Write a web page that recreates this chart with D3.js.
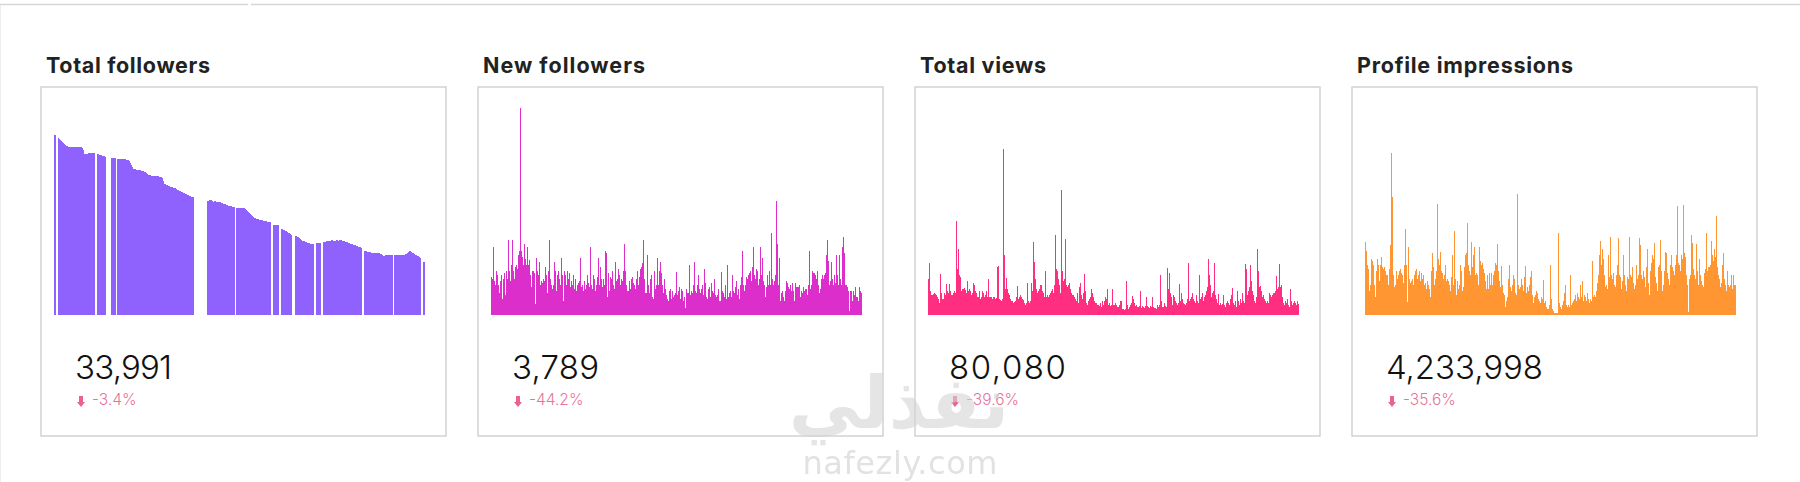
<!DOCTYPE html>
<html><head><meta charset="utf-8">
<script src="https://cdn.jsdelivr.net/npm/d3@7"></script>
<style>html,body{margin:0;padding:0;background:#fff;overflow:hidden}svg{display:block}</style>
</head><body><div id="c"></div>
<script>
const titles=["Total followers","New followers","Total views","Profile impressions"];
const totals=["33,991","3,789","80,080","4,233,998"];
const deltas=["-3.4%","-44.2%","-39.6%","-35.6%"];
const colors=["#9062fd","#dc2ecb","#ff2e80","#ff9633"];
const watermarkAr="نفذلي";
const watermarkEn="nafezly.com";
const totalFollowers=[
180,180,0,0,177,176,175,174,173,172,171,170,169,169,168,168,168,168,168,168,
168,168,168,168,168,168,168,168,167,165,161,161,161,161,162,162,162,162,162,162,
162,0,0,161,161,160,160,160,159,159,159,158,0,0,0,0,0,157,157,157,
157,157,0,156,156,156,156,156,156,156,156,156,155,155,155,154,152,150,148,146,
146,146,145,145,145,145,145,144,144,144,143,143,142,141,140,140,140,139,139,139,
139,139,139,139,139,138,138,138,137,134,131,131,130,130,129,129,128,128,128,127,
127,127,126,125,125,124,124,123,123,122,122,121,121,120,120,119,119,118,118,118,
0,0,0,0,0,0,0,0,0,0,0,0,0,114,114,115,115,115,114,113,
114,114,113,113,113,113,113,112,112,111,111,111,110,110,109,109,109,109,108,108,
108,0,107,107,107,107,107,107,107,107,107,106,105,104,103,102,101,100,99,98,
97,97,96,96,96,95,95,95,95,94,94,94,94,93,93,93,93,0,0,90,
90,90,90,90,90,0,0,86,86,85,85,84,84,83,82,82,81,80,0,0,
0,79,79,78,78,77,76,75,74,74,74,73,73,72,72,72,71,71,71,71,
0,0,72,72,72,72,72,0,0,73,73,73,74,74,74,74,74,75,75,74,
74,74,75,75,74,75,75,75,74,74,74,73,73,73,72,72,71,71,71,70,
70,70,69,69,68,68,68,67,0,0,64,64,64,63,63,63,63,62,62,62,
62,62,62,62,62,62,61,61,60,59,59,60,60,60,60,60,60,60,60,0,
60,60,60,60,60,60,60,60,60,60,60,61,61,62,63,64,64,63,62,62,
61,60,60,59,59,58,57,0,0,53,53];
const newFollowers=[
38,36,68,34,30,44,40,30,22,34,40,16,36,42,20,44,36,75,44,38,
34,50,75,44,36,48,50,46,60,64,207,64,58,50,71,56,50,68,50,55,
40,28,44,44,42,11,57,44,40,53,30,34,32,36,34,48,40,36,22,44,
75,36,30,26,30,53,44,24,40,44,36,30,57,40,14,44,40,30,44,36,
42,28,34,30,40,26,36,24,30,32,34,57,28,30,24,20,34,26,30,40,
32,28,68,30,26,40,36,24,30,38,57,30,48,36,28,36,30,64,62,18,
42,24,38,36,44,30,26,53,34,36,46,40,30,42,36,34,44,71,44,30,
24,24,34,26,36,38,32,30,26,36,44,30,38,46,48,52,75,36,22,22,
60,30,22,36,40,18,16,44,26,30,57,38,30,44,53,42,30,22,36,26,
20,16,14,24,26,16,24,18,20,22,43,20,24,28,16,26,24,14,18,7,
26,22,22,50,20,24,22,30,53,28,24,22,30,40,26,22,26,30,20,46,
32,18,16,26,28,18,32,24,22,36,20,18,20,26,14,14,43,24,22,18,
30,16,50,18,22,24,18,75,40,24,22,28,34,20,26,16,30,38,64,30,
24,30,38,36,40,42,44,34,48,68,40,36,46,44,30,36,68,40,57,34,
30,18,28,40,30,32,44,30,82,36,30,34,40,114,71,30,57,14,22,24,
18,14,24,34,32,28,26,30,24,32,24,14,32,28,28,28,30,18,24,22,
28,24,26,75,26,20,30,64,26,30,44,42,42,40,36,44,30,22,26,36,
40,36,40,42,60,75,54,30,34,53,36,30,40,32,60,40,30,60,36,30,
68,70,78,62,30,30,28,24,4,24,24,14,24,20,28,18,18,14,28,24,22];
const totalViews=[
36,52,24,20,20,21,22,21,20,18,16,12,41,22,16,16,22,20,31,24,
22,31,24,20,20,22,24,22,94,46,66,40,38,24,26,26,27,25,22,34,
24,26,24,20,22,32,30,24,22,18,18,24,16,18,24,22,18,20,24,18,
36,18,18,18,16,18,18,16,17,48,49,16,15,14,16,166,60,26,37,26,
22,20,16,14,14,12,13,14,18,29,16,18,20,18,16,15,12,10,12,32,
14,12,14,32,24,73,53,36,26,22,24,26,30,30,24,22,18,44,18,20,
18,20,22,24,26,22,30,80,46,44,36,30,22,125,44,34,36,76,30,28,
30,32,26,22,20,20,18,16,14,22,12,28,32,20,16,22,41,24,12,10,
14,16,18,26,22,18,14,12,12,10,10,9,12,8,14,10,14,18,16,26,
10,12,9,10,26,10,10,12,10,8,8,10,14,14,6,6,5,6,34,10,
6,8,10,12,19,16,12,9,10,8,8,9,24,7,9,8,7,9,18,9,
8,7,9,8,18,8,7,7,6,10,8,10,40,14,8,8,12,9,8,47,
26,42,22,18,10,20,18,14,12,10,12,31,14,22,16,12,11,10,12,16,
52,14,16,18,22,16,14,12,20,14,12,40,16,18,22,14,18,20,24,28,
56,40,30,18,22,24,52,20,16,12,21,10,12,10,11,20,10,8,12,14,
12,10,16,20,27,12,10,14,8,24,14,10,16,12,22,14,12,51,46,20,
24,28,50,34,24,20,14,12,18,66,44,28,29,24,18,20,16,14,12,14,
12,22,20,18,20,22,22,24,39,26,28,51,28,30,18,12,10,14,12,16,
10,8,26,14,10,12,14,12,10,14,11];
const profileImpressions=[
73,64,50,46,24,30,56,54,50,30,18,44,56,50,34,50,58,48,46,73,
48,44,40,40,30,46,70,162,118,40,28,30,44,36,40,44,46,42,40,32,
50,86,50,13,68,36,32,34,36,30,40,44,46,36,40,44,34,28,42,36,
40,30,32,26,34,30,26,18,44,62,48,30,36,44,111,56,50,63,44,42,
36,40,50,34,36,34,30,24,38,60,30,84,36,20,34,24,26,30,50,44,
24,28,48,60,62,92,50,44,40,73,48,60,68,40,42,40,30,68,54,50,
52,46,42,34,26,40,26,42,30,42,30,40,44,114,52,50,71,44,34,28,
49,30,22,20,8,14,18,36,50,28,24,30,40,36,22,20,121,30,26,28,
36,30,24,38,49,22,28,24,30,38,44,24,20,12,18,20,24,22,16,14,
12,18,16,35,12,14,8,6,6,10,50,16,6,4,2,2,2,2,82,12,
8,6,10,14,22,30,10,8,10,12,8,40,10,12,14,16,20,14,22,18,
16,30,18,34,14,20,18,14,22,16,12,16,14,54,18,20,18,24,32,40,
60,74,50,66,56,40,28,36,30,26,60,38,78,40,36,42,30,28,40,50,
77,40,38,26,34,60,40,30,24,38,36,78,40,38,48,32,26,30,50,36,
40,77,70,40,36,74,44,38,28,48,66,32,20,44,52,60,56,72,38,32,
24,48,50,75,44,24,30,44,63,62,42,36,30,50,60,48,44,40,50,60,
109,52,50,50,44,60,56,110,62,58,40,30,3,36,40,80,72,46,40,36,
71,44,30,56,40,34,30,28,42,46,82,44,48,48,50,74,60,54,66,58,
99,60,48,40,36,28,32,50,62,36,30,24,44,30,28,30,40,26,40,30,30];
const series=[totalFollowers,newFollowers,totalViews,profileImpressions];
const W=1800,H=482;
const boxLefts=[41,478,915,1352];
const titleWidths=[164,162,126,216],totalWidths=[97,87,117,157];
const boxW=405,boxTop=87,boxBottom=436,baseY=315,chartW=371,maxUnits=207,chartH=208;
const svg=d3.select("#c").append("svg").attr("width",W).attr("height",H);
svg.append("line").attr("x1",0).attr("x2",248).attr("y1",4.5).attr("y2",4.5).attr("stroke","#d6d6d6").attr("stroke-width",1.5);
svg.append("line").attr("x1",251).attr("x2",W).attr("y1",4.5).attr("y2",4.5).attr("stroke","#d6d6d6").attr("stroke-width",1.5);
svg.append("line").attr("x1",0.5).attr("x2",0.5).attr("y1",5).attr("y2",H).attr("stroke","#eeeeee").attr("stroke-width",1);
const y=d3.scaleLinear().domain([0,maxUnits]).range([baseY,baseY-chartH+1]);
const font="Inter, 'Noto Sans', sans-serif";
const soft=svg.append("defs").append("filter").attr("id","soft").attr("x",0).attr("y",0).attr("width",1).attr("height",1);
soft.append("feGaussianBlur").attr("stdDeviation",0.35);
titles.forEach((t,k)=>{
  const bx=boxLefts[k];
  const g=svg.append("g");
  g.append("rect").attr("x",bx).attr("y",boxTop).attr("width",boxW).attr("height",boxBottom-boxTop).attr("fill","#fff").attr("stroke","#cfcfcf").attr("stroke-width",1.4);
  g.append("text").attr("x",bx+5).attr("y",73).attr("font-family",font).attr("font-weight",700).attr("font-size",21.5).attr("textLength",titleWidths[k]).attr("lengthAdjust","spacing").attr("fill","#222").text(t);
  const vals=series[k];
  const x=d3.scaleBand().domain(d3.range(vals.length)).range([bx+13,bx+13+chartW]);
  g.append("g").attr("filter","url(#soft)").selectAll("rect").data(vals).join("rect")
    .attr("x",(d,i)=>x(i)).attr("width",x.bandwidth()).attr("y",d=>y(d)).attr("height",d=>baseY-y(d))
    .attr("fill",colors[k]).attr("shape-rendering","crispEdges");
  g.append("text").attr("x",bx+34).attr("y",379).attr("font-family",font).attr("font-weight",300).attr("font-size",33).attr("textLength",totalWidths[k]).attr("lengthAdjust","spacing").attr("fill","#111").text(totals[k]);
  const ax=bx+40;
  g.append("path").attr("d",`M${ax-2},396V402H${ax-4}L${ax},407L${ax+4},402H${ax+2}V396Z`).attr("fill","#e8638f");
  g.append("text").attr("x",bx+51).attr("y",405).attr("font-family",font).attr("font-weight",300).attr("font-size",15.5).attr("fill","#e8729a").text(deltas[k]);
});
svg.append("text").attr("x",899).attr("y",428).attr("text-anchor","middle").attr("font-family","'DejaVu Sans'").attr("font-weight",700).attr("font-size",72).attr("fill","#d4d4d4").attr("opacity",0.6).text(watermarkAr);
svg.append("text").attr("x",900).attr("y",474).attr("text-anchor","middle").attr("font-family","'DejaVu Sans'").attr("font-weight",400).attr("font-size",32).attr("textLength",195).attr("fill","#cfcfcf").attr("opacity",0.6).text(watermarkEn);
</script></body></html>
